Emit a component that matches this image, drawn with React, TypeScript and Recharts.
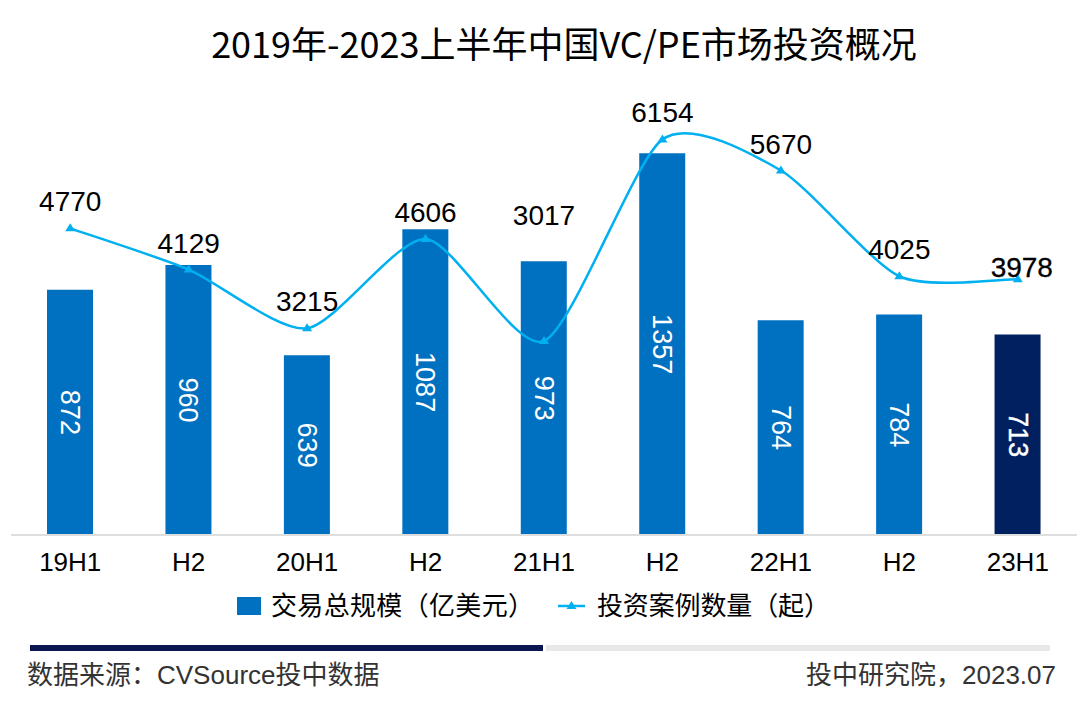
import React from "react";
import { ComposedChart, Bar, Line, XAxis, YAxis, Cell, LabelList } from "recharts";

const periods = ["19H1", "H2", "20H1", "H2", "21H1", "H2", "22H1", "H2", "23H1"];
const dealAmount = [872, 960, 639, 1087, 973, 1357, 764, 784, 713];
const dealCount = [4770, 4129, 3215, 4606, 3017, 6154, 5670, 4025, 3978];

const title = "2019年-2023上半年中国VC/PE市场投资概况";
const amountName = "交易总规模（亿美元）";
const countName = "投资案例数量（起）";
const sourceText = "数据来源：CVSource投中数据";
const creditText = "投中研究院，2023.07";

const data = periods.map((p, i) => ({ period: p, amount: dealAmount[i], count: dealCount[i] }));

const BAR = "#0070c0";
const BAR_LAST = "#002060";
const LINE = "#00b0f0";
const LATIN = "'Liberation Sans', Arial, 'Noto Sans CJK SC', sans-serif";
const CJK = "'Noto Sans CJK SC', 'Liberation Sans', sans-serif";

// excel-like smoothing: bezier with control points from neighbouring points
const K = 0.12;
const excelSmooth = (context: any) => {
  let pts: number[][] = [];
  return {
    areaStart() {},
    areaEnd() {},
    lineStart() {
      pts = [];
    },
    point(x: number, y: number) {
      pts.push([+x, +y]);
    },
    lineEnd() {
      if (!pts.length) return;
      context.moveTo(pts[0][0], pts[0][1]);
      for (let i = 0; i < pts.length - 1; i++) {
        const p0 = pts[i - 1] || pts[i];
        const p1 = pts[i];
        const p2 = pts[i + 1];
        const p3 = pts[i + 2] || pts[i + 1];
        context.bezierCurveTo(
          p1[0] + (p2[0] - p0[0]) * K,
          p1[1] + (p2[1] - p0[1]) * K,
          p2[0] - (p3[0] - p1[0]) * K,
          p2[1] - (p3[1] - p1[1]) * K,
          p2[0],
          p2[1]
        );
      }
    },
  };
};

const Triangle = (props: any) => {
  const { cx, cy, index } = props;
  if (cx == null || cy == null) return <g key={index} />;
  return <path key={index} d={`M${cx},${cy - 5} L${cx + 5},${cy + 3} L${cx - 5},${cy + 3} Z`} fill={LINE} />;
};

const BarValue = (props: any) => {
  const { x, y, width, height, value, index } = props;
  const cx = x + width / 2;
  const cy = y + height / 2;
  const last = index === dealAmount.length - 1;
  return (
    <text
      x={cx}
      y={cy}
      transform={`rotate(90, ${cx}, ${cy})`}
      textAnchor="middle"
      dominantBaseline="central"
      fill="#fff"
      stroke={last ? "#fff" : "none"}
      strokeWidth={last ? 0.4 : 0}
      fontSize={27}
      fontFamily={LATIN}
    >
      {value}
    </text>
  );
};

// hand-placed labels in the original
const labelLift = (i: number) => (i === 4 ? 116 : i === 8 ? 2 : 17);

const CountValue = (props: any) => {
  const { x, y, value, index } = props;
  const last = index === dealCount.length - 1;
  return (
    <text
      x={x + (last ? 4 : 0)}
      y={y - labelLift(index)}
      textAnchor="middle"
      fill="#000"
      stroke={last ? "#000" : "none"}
      strokeWidth={last ? 0.3 : 0}
      fontSize={28}
      fontFamily={LATIN}
    >
      {value}
    </text>
  );
};

export default function App() {
  return (
    <div style={{ position: "absolute", left: 0, top: 0, width: 1080, height: 722, background: "#fff" }}>
      <ComposedChart
        width={1080}
        height={722}
        data={data}
        margin={{ top: 85, right: 3, left: 11, bottom: 157 }}
      >
        <XAxis
          dataKey="period"
          axisLine={{ stroke: "#dedede", strokeWidth: 2 }}
          tickLine={false}
          tickMargin={12}
          interval={0}
          tick={{ fill: "#000", fontSize: 26, fontFamily: LATIN }}
        />
        <YAxis yAxisId="amount" hide domain={[0, 1600]} />
        <YAxis yAxisId="count" orientation="right" hide domain={[0, 7000]} />
        <Bar yAxisId="amount" dataKey="amount" name={amountName} barSize={46} isAnimationActive={false}>
          {data.map((d, i) => (
            <Cell key={d.period + i} fill={i === data.length - 1 ? BAR_LAST : BAR} />
          ))}
          <LabelList dataKey="amount" content={BarValue} />
        </Bar>
        <Line
          yAxisId="count"
          dataKey="count"
          name={countName}
          type={excelSmooth as any}
          stroke={LINE}
          strokeWidth={2.5}
          dot={Triangle}
          activeDot={false}
          isAnimationActive={false}
        >
          <LabelList dataKey="count" content={CountValue} />
        </Line>
      </ComposedChart>

      <svg
        width={1080}
        height={722}
        style={{ position: "absolute", left: 0, top: 0, pointerEvents: "none" }}
      >
        <text x={564} y={58} textAnchor="middle" fontSize={36} fontFamily={CJK} fill="#000">
          {title}
        </text>

        {/* legend */}
        <rect x={237} y={597} width={24} height={18} fill={BAR} />
        <text x={271} y={615} fontSize={26} fontFamily={CJK} fill="#000" textLength={263} lengthAdjust="spacing">
          {amountName}
        </text>
        <line x1={558} y1={606} x2={585} y2={606} stroke={LINE} strokeWidth={2.5} />
        <path d="M571.5,601 L576.5,609 L566.5,609 Z" fill={LINE} />
        <text x={597} y={615} fontSize={26} fontFamily={CJK} fill="#000" textLength={233} lengthAdjust="spacing">
          {countName}
        </text>

        {/* footer */}
        <rect x={30} y={645} width={513} height={6} fill="#0a1551" />
        <rect x={546} y={645} width={504} height={6} fill="#e8e8e8" />
        <text x={27} y={684} fontSize={26} fontFamily={LATIN} fill="#333">
          {sourceText}
        </text>
        <text x={1056} y={684} textAnchor="end" fontSize={26} fontFamily={LATIN} fill="#333">
          {creditText}
        </text>
      </svg>
    </div>
  );
}
